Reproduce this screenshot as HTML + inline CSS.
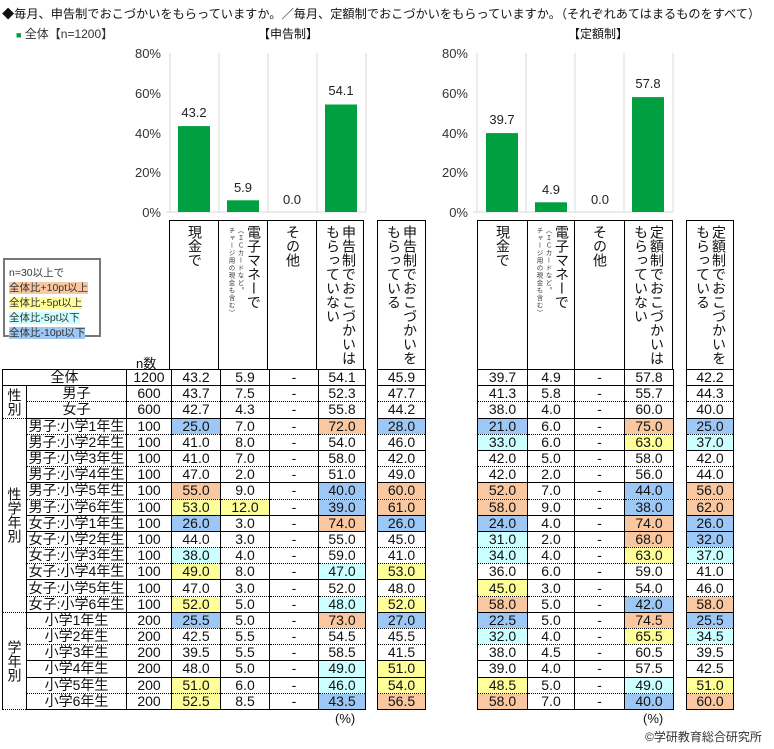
<!DOCTYPE html>
<html><head><meta charset="utf-8"><style>
*{margin:0;padding:0;box-sizing:border-box}
body{width:774px;height:749px;background:#fff;position:relative;overflow:hidden;font-family:"Liberation Sans","Noto Sans CJK JP",sans-serif;color:#111}
.a{position:absolute;white-space:nowrap}
table{position:absolute;border-collapse:collapse;table-layout:fixed;height:341px}
td{border-left:1.5px solid #000;border-right:1.5px solid #000;border-top:none;text-align:center;font-size:14px;line-height:15px;padding:0;overflow:hidden;white-space:nowrap}
tr.s td{border-bottom:1.5px solid #000}
tr.d td{border-bottom:1px dotted #000}
table tr:first-child td{border-top:1.5px solid #000}
td.v{writing-mode:vertical-rl;font-size:14px;line-height:16px;border-bottom:1.5px solid #000}
.o{background:#f9c8a0}.y{background:#ffff99}.c{background:#ccffff}.b{background:#9dc8f5}
.h{position:absolute;top:220px;height:150px;border:1.5px solid #000;border-bottom:none}
.t{position:absolute;top:4px;writing-mode:vertical-rl;font-size:14px;line-height:15px;white-space:nowrap}
.sm{position:absolute;top:6px;writing-mode:vertical-rl;font-size:6.5px;line-height:7px;letter-spacing:1px;white-space:nowrap;color:#333}
</style></head><body>
<div class="a" style="left:2px;top:4px;font-size:12.2px">◆毎月、申告制でおこづかいをもらっていますか。／毎月、定額制でおこづかいをもらっていますか。（それぞれあてはまるものをすべて）</div>
<div class="a" style="left:16px;top:25px;font-size:12px;color:#333"><span style="color:#00a040;font-size:9px">■</span> 全体【n=1200】</div>
<div class="a" style="left:258px;top:25px;font-size:12px">【申告制】</div>
<div class="a" style="left:568px;top:25px;font-size:12px">【定額制】</div>

<svg class="a" style="left:0;top:0" width="774" height="230">
<g font-family="Liberation Sans" font-size="13" fill="#333" text-anchor="end">
<text x="161" y="58">80%</text><text x="161" y="98">60%</text><text x="161" y="138">40%</text><text x="161" y="177">20%</text><text x="161" y="217">0%</text>
<text x="468" y="58">80%</text><text x="468" y="98">60%</text><text x="468" y="138">40%</text><text x="468" y="177">20%</text><text x="468" y="217">0%</text>
</g>
<g stroke="#d9d9d9" stroke-width="1">
<line x1="170" y1="53" x2="170" y2="212"/><line x1="219" y1="53" x2="219" y2="212"/><line x1="268" y1="53" x2="268" y2="212"/><line x1="317" y1="53" x2="317" y2="212"/><line x1="366" y1="53" x2="366" y2="212"/><line x1="166" y1="212" x2="366" y2="212"/>
<line x1="477" y1="53" x2="477" y2="212"/><line x1="526" y1="53" x2="526" y2="212"/><line x1="575" y1="53" x2="575" y2="212"/><line x1="624" y1="53" x2="624" y2="212"/><line x1="673" y1="53" x2="673" y2="212"/><line x1="473" y1="212" x2="673" y2="212"/>
</g>
<g fill="#00a040">
<rect x="178" y="126.1" width="32" height="85.9"/><rect x="227" y="200.3" width="32" height="11.7"/><rect x="325" y="104.5" width="32" height="107.5"/>
<rect x="486" y="133.1" width="32" height="78.9"/><rect x="535" y="202.3" width="32" height="9.7"/><rect x="632" y="97.1" width="32" height="114.9"/>
</g>
<g font-family="Liberation Sans" font-size="13" fill="#222" text-anchor="middle">
<text x="194" y="117">43.2</text><text x="243" y="192">5.9</text><text x="292" y="204">0.0</text><text x="341" y="95">54.1</text>
<text x="502" y="124">39.7</text><text x="551" y="194">4.9</text><text x="600" y="204">0.0</text><text x="648" y="88">57.8</text>
</g>
</svg>

<div class="a" style="left:3px;top:258px;width:98px;height:79px;border:2px solid #777;font-size:10.5px;line-height:15px;padding:6px 0 0 4px;color:#333">
n=30以上で<br><span style="background:#f9c8a0">全体比+10pt以上</span><br><span style="background:#ffff99">全体比+5pt以上</span><br><span style="background:#ccffff">全体比-5pt以下</span><br><span style="background:#9dc8f5">全体比-10pt以下</span></div>
<div class="a" style="left:136px;top:353px;font-size:13px">n数</div>

<div class="h" style="left:169px;width:50px"><div class="t" style="left:17px">現金で</div></div>
<div class="h" style="left:218px;width:50px"><div class="t" style="left:27px">電子マネーで</div><div class="sm" style="left:17px">（ＩＣカードなど。</div><div class="sm" style="left:8px">チャージ用の現金も含む）</div></div>
<div class="h" style="left:267px;width:50px"><div class="t" style="left:17px">その他</div></div>
<div class="h" style="left:316px;width:48px"><div class="t" style="left:24px">申告制でおこづかいは</div><div class="t" style="left:8px">もらっていない</div></div>
<div class="h" style="left:377px;width:49px"><div class="t" style="left:24px">申告制でおこづかいを</div><div class="t" style="left:8px">もらっている</div></div>
<div class="h" style="left:477px;width:51px"><div class="t" style="left:17px">現金で</div></div>
<div class="h" style="left:527px;width:48px"><div class="t" style="left:26px">電子マネーで</div><div class="sm" style="left:16px">（ＩＣカードなど。</div><div class="sm" style="left:7px">チャージ用の現金も含む）</div></div>
<div class="h" style="left:574px;width:51px"><div class="t" style="left:17px">その他</div></div>
<div class="h" style="left:624px;width:49px"><div class="t" style="left:24px">定額制でおこづかいは</div><div class="t" style="left:8px">もらっていない</div></div>
<div class="h" style="left:686px;width:48px"><div class="t" style="left:24px">定額制でおこづかいを</div><div class="t" style="left:8px">もらっている</div></div>

<table style="left:2px;top:369px;width:363px">
<colgroup><col style="width:24px"><col style="width:100px"><col style="width:45px"><col style="width:49px"><col style="width:49px"><col style="width:49px"><col style="width:47px"></colgroup>
<tr class="s"><td colspan="2">全体</td><td>1200</td><td>43.2</td><td>5.9</td><td>-</td><td>54.1</td></tr>
<tr class="d"><td class="v" rowspan="2">性別</td><td>男子</td><td>600</td><td>43.7</td><td>7.5</td><td>-</td><td>52.3</td></tr>
<tr class="s"><td>女子</td><td>600</td><td>42.7</td><td>4.3</td><td>-</td><td>55.8</td></tr>
<tr class="d"><td class="v" rowspan="12">性学年別</td><td>男子:小学1年生</td><td>100</td><td class="b">25.0</td><td>7.0</td><td>-</td><td class="o">72.0</td></tr>
<tr class="s"><td>男子:小学2年生</td><td>100</td><td>41.0</td><td>8.0</td><td>-</td><td>54.0</td></tr>
<tr class="d"><td>男子:小学3年生</td><td>100</td><td>41.0</td><td>7.0</td><td>-</td><td>58.0</td></tr>
<tr class="s"><td>男子:小学4年生</td><td>100</td><td>47.0</td><td>2.0</td><td>-</td><td>51.0</td></tr>
<tr class="d"><td>男子:小学5年生</td><td>100</td><td class="o">55.0</td><td>9.0</td><td>-</td><td class="b">40.0</td></tr>
<tr class="s"><td>男子:小学6年生</td><td>100</td><td class="y">53.0</td><td class="y">12.0</td><td>-</td><td class="b">39.0</td></tr>
<tr class="s"><td>女子:小学1年生</td><td>100</td><td class="b">26.0</td><td>3.0</td><td>-</td><td class="o">74.0</td></tr>
<tr class="d"><td>女子:小学2年生</td><td>100</td><td>44.0</td><td>3.0</td><td>-</td><td>55.0</td></tr>
<tr class="d"><td>女子:小学3年生</td><td>100</td><td class="c">38.0</td><td>4.0</td><td>-</td><td>59.0</td></tr>
<tr class="s"><td>女子:小学4年生</td><td>100</td><td class="y">49.0</td><td>8.0</td><td>-</td><td class="c">47.0</td></tr>
<tr class="d"><td>女子:小学5年生</td><td>100</td><td>47.0</td><td>3.0</td><td>-</td><td>52.0</td></tr>
<tr class="s"><td>女子:小学6年生</td><td>100</td><td class="y">52.0</td><td>5.0</td><td>-</td><td class="c">48.0</td></tr>
<tr class="d"><td class="v" rowspan="6">学年別</td><td>小学1年生</td><td>200</td><td class="b">25.5</td><td>5.0</td><td>-</td><td class="o">73.0</td></tr>
<tr class="d"><td>小学2年生</td><td>200</td><td>42.5</td><td>5.5</td><td>-</td><td>54.5</td></tr>
<tr class="s"><td>小学3年生</td><td>200</td><td>39.5</td><td>5.5</td><td>-</td><td>58.5</td></tr>
<tr class="s"><td>小学4年生</td><td>200</td><td>48.0</td><td>5.0</td><td>-</td><td class="c">49.0</td></tr>
<tr class="d"><td>小学5年生</td><td>200</td><td class="y">51.0</td><td>6.0</td><td>-</td><td class="c">46.0</td></tr>
<tr class="s"><td>小学6年生</td><td>200</td><td class="y">52.5</td><td>8.5</td><td>-</td><td class="b">43.5</td></tr>
</table>

<table style="left:377px;top:369px;width:49px">
<tr class="s"><td>45.9</td></tr><tr class="d"><td>47.7</td></tr><tr class="s"><td>44.2</td></tr>
<tr class="d"><td class="b">28.0</td></tr><tr class="s"><td>46.0</td></tr><tr class="d"><td>42.0</td></tr><tr class="s"><td>49.0</td></tr><tr class="d"><td class="o">60.0</td></tr><tr class="s"><td class="o">61.0</td></tr>
<tr class="s"><td class="b">26.0</td></tr><tr class="d"><td>45.0</td></tr><tr class="d"><td>41.0</td></tr><tr class="s"><td class="y">53.0</td></tr><tr class="d"><td>48.0</td></tr><tr class="s"><td class="y">52.0</td></tr>
<tr class="d"><td class="b">27.0</td></tr><tr class="d"><td>45.5</td></tr><tr class="s"><td>41.5</td></tr><tr class="s"><td class="y">51.0</td></tr><tr class="d"><td class="y">54.0</td></tr><tr class="s"><td class="o">56.5</td></tr>
</table>

<table style="left:477px;top:369px;width:196px">
<colgroup><col style="width:50px"><col style="width:47px"><col style="width:50px"><col style="width:49px"></colgroup>
<tr class="s"><td>39.7</td><td>4.9</td><td>-</td><td>57.8</td></tr>
<tr class="d"><td>41.3</td><td>5.8</td><td>-</td><td>55.7</td></tr>
<tr class="s"><td>38.0</td><td>4.0</td><td>-</td><td>60.0</td></tr>
<tr class="d"><td class="b">21.0</td><td>6.0</td><td>-</td><td class="o">75.0</td></tr>
<tr class="s"><td class="c">33.0</td><td>6.0</td><td>-</td><td class="y">63.0</td></tr>
<tr class="d"><td>42.0</td><td>5.0</td><td>-</td><td>58.0</td></tr>
<tr class="s"><td>42.0</td><td>2.0</td><td>-</td><td>56.0</td></tr>
<tr class="d"><td class="o">52.0</td><td>7.0</td><td>-</td><td class="b">44.0</td></tr>
<tr class="s"><td class="o">58.0</td><td>9.0</td><td>-</td><td class="b">38.0</td></tr>
<tr class="s"><td class="b">24.0</td><td>4.0</td><td>-</td><td class="o">74.0</td></tr>
<tr class="d"><td class="c">31.0</td><td>2.0</td><td>-</td><td class="o">68.0</td></tr>
<tr class="d"><td class="c">34.0</td><td>4.0</td><td>-</td><td class="y">63.0</td></tr>
<tr class="s"><td>36.0</td><td>6.0</td><td>-</td><td>59.0</td></tr>
<tr class="d"><td class="y">45.0</td><td>3.0</td><td>-</td><td>54.0</td></tr>
<tr class="s"><td class="o">58.0</td><td>5.0</td><td>-</td><td class="b">42.0</td></tr>
<tr class="d"><td class="b">22.5</td><td>5.0</td><td>-</td><td class="o">74.5</td></tr>
<tr class="d"><td class="c">32.0</td><td>4.0</td><td>-</td><td class="y">65.5</td></tr>
<tr class="s"><td>38.0</td><td>4.5</td><td>-</td><td>60.5</td></tr>
<tr class="s"><td>39.0</td><td>4.0</td><td>-</td><td>57.5</td></tr>
<tr class="d"><td class="y">48.5</td><td>5.0</td><td>-</td><td class="c">49.0</td></tr>
<tr class="s"><td class="o">58.0</td><td>7.0</td><td>-</td><td class="b">40.0</td></tr>
</table>

<table style="left:686px;top:369px;width:48px">
<tr class="s"><td>42.2</td></tr><tr class="d"><td>44.3</td></tr><tr class="s"><td>40.0</td></tr>
<tr class="d"><td class="b">25.0</td></tr><tr class="s"><td class="c">37.0</td></tr><tr class="d"><td>42.0</td></tr><tr class="s"><td>44.0</td></tr><tr class="d"><td class="o">56.0</td></tr><tr class="s"><td class="o">62.0</td></tr>
<tr class="s"><td class="b">26.0</td></tr><tr class="d"><td class="b">32.0</td></tr><tr class="d"><td class="c">37.0</td></tr><tr class="s"><td>41.0</td></tr><tr class="d"><td>46.0</td></tr><tr class="s"><td class="o">58.0</td></tr>
<tr class="d"><td class="b">25.5</td></tr><tr class="d"><td class="c">34.5</td></tr><tr class="s"><td>39.5</td></tr><tr class="s"><td>42.5</td></tr><tr class="d"><td class="y">51.0</td></tr><tr class="s"><td class="o">60.0</td></tr>
</table>

<div class="a" style="left:335px;top:711px;font-size:13px">(%)</div>
<div class="a" style="left:643px;top:711px;font-size:13px">(%)</div>
<div class="a" style="left:645px;top:728px;font-size:12px;color:#333">©学研教育総合研究所</div>
</body></html>
